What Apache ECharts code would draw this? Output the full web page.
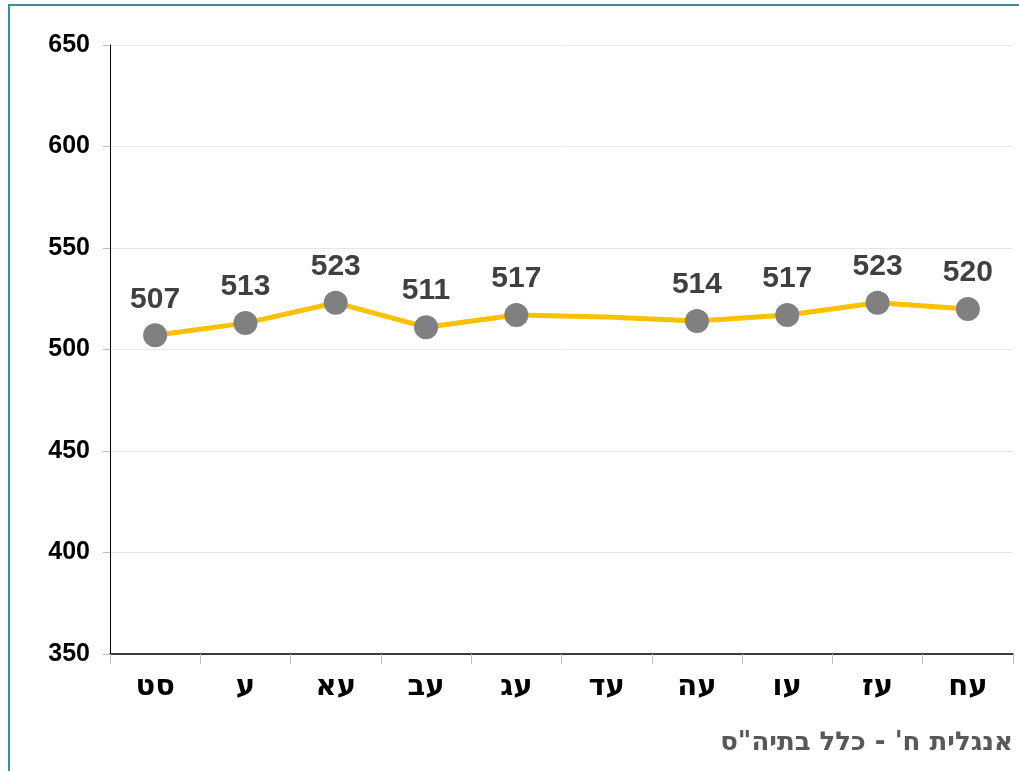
<!DOCTYPE html>
<html>
<head>
<meta charset="utf-8">
<script src="https://cdn.jsdelivr.net/npm/echarts@6/dist/echarts.min.js"></script>
<style>
  html, body { margin: 0; padding: 0; background: #fff; }
  #frame {
    position: absolute; left: 8px; top: 4px; right: 0; bottom: 0;
    border-left: 2px solid #3a8c9c; border-top: 2px solid #3a8c9c;
  }
  #chart { position: absolute; left: 0; top: 0; width: 1019px; height: 771px; }
</style>
</head>
<body>
<div id="frame"></div>
<div id="chart"></div>
<script>
const categories = ['סט', 'ע', 'עא', 'עב', 'עג', 'עד', 'עה', 'עו', 'עז', 'עח']
const scores = [507, 513, 523, 511, 517, 516, 514, 517, 523, 520]
// עד has no marker or label in the source, the line just passes through it
const hiddenPoints = ['עד']
const yTicks = { min: 350, max: 650, interval: 50 }
const subtitle = 'אנגלית ח\' - כלל בתיה"ס'

const numFont = 'Arial, "Liberation Sans", sans-serif'
const hebFont = '"DejaVu Sans", sans-serif'

const chart = echarts.init(document.getElementById('chart'), null, { renderer: 'canvas' })

const seriesData = scores.map((v, i) => {
  if (hiddenPoints.includes(categories[i])) {
    return { value: v, symbol: 'none', label: { show: false } }
  }
  return v
})

chart.setOption({
  animation: false,
  backgroundColor: 'transparent',
  grid: { left: 110, right: 6, top: 45, bottom: 117 },
  graphic: [
    {
      type: 'text',
      right: 6,
      top: 730,
      style: {
        text: subtitle,
        fill: '#595959',
        font: 'bold 26px ' + hebFont,
      },
    },
  ],
  xAxis: {
    type: 'category',
    data: categories,
    boundaryGap: true,
    axisLine: { lineStyle: { color: '#000', width: 1.5 } },
    axisTick: { show: true, length: 10, lineStyle: { color: '#bfbfbf', width: 1 } },
    axisLabel: {
      color: '#000',
      fontSize: 29,
      fontWeight: 'bold',
      fontFamily: hebFont,
      margin: 19,
    },
  },
  yAxis: {
    type: 'value',
    min: yTicks.min,
    max: yTicks.max,
    interval: yTicks.interval,
    axisLine: { show: true, lineStyle: { color: '#000', width: 1 } },
    axisTick: { show: true, length: 7, lineStyle: { color: '#bfbfbf' } },
    axisLabel: {
      color: '#000',
      fontSize: 25,
      fontWeight: 'bold',
      fontFamily: numFont,
      margin: 20,
    },
    splitLine: { lineStyle: { color: '#e6e6e6', width: 1 } },
  },
  series: [
    {
      type: 'line',
      data: seriesData,
      symbol: 'circle',
      symbolSize: 24,
      lineStyle: { color: '#ffc000', width: 5 },
      itemStyle: { color: '#808080' },
      label: {
        show: true,
        position: 'top',
        distance: 9,
        color: '#404040',
        fontSize: 30,
        fontWeight: 'bold',
        fontFamily: numFont,
      },
    },
  ],
})
</script>
</body>
</html>
